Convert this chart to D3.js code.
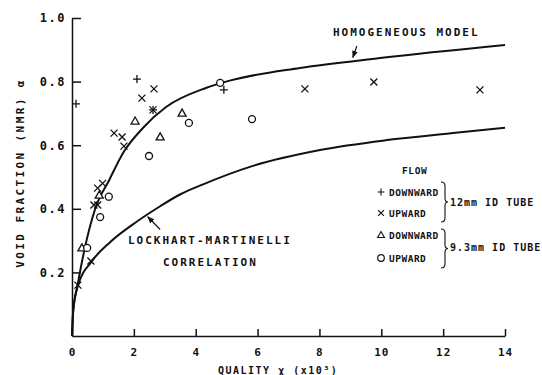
<!DOCTYPE html>
<html>
<head>
<meta charset="utf-8">
<script src="https://cdn.jsdelivr.net/npm/d3@7"></script>
<style>
  body { margin: 0; background: #fff; }
  svg text { font-family: "DejaVu Sans Mono", monospace; fill: #111; font-weight: bold; }
</style>
</head>
<body>
<svg width="542" height="375"></svg>
<script>
// measured points, quality x (x10^3) vs void fraction
const down12X = [0.13, 2.1, 2.62, 4.91]
const down12A = [0.73, 0.808, 0.711, 0.774]
const up12X = [0.19, 0.61, 0.71, 0.83, 0.83, 0.99, 1.36, 1.62, 1.68, 2.26, 2.62, 2.65, 7.53, 9.76, 13.19]
const up12A = [0.16, 0.236, 0.412, 0.412, 0.465, 0.48, 0.638, 0.626, 0.597, 0.748, 0.711, 0.777, 0.777, 0.799, 0.774]
const down93X = [0.32, 0.88, 2.04, 2.85, 3.56]
const down93A = [0.277, 0.443, 0.676, 0.626, 0.701]
const up93X = [0.49, 0.91, 1.19, 2.49, 3.78, 4.79, 5.82]
const up93A = [0.277, 0.374, 0.438, 0.566, 0.67, 0.796, 0.682]

// model curves
const homX = [0, 0.04, 0.18, 0.4, 0.75, 1.2, 1.68, 2.3, 3.04, 4.33, 5.1, 7.37, 9.96, 14]
const homA = [0, 0.08, 0.16, 0.27, 0.40, 0.49, 0.58, 0.655, 0.72, 0.78, 0.803, 0.843, 0.874, 0.915]
const lmX = [0, 0.04, 0.19, 0.65, 1.23, 2.1, 2.85, 3.49, 4.24, 5.85, 8.02, 10.18, 12.32, 14]
const lmA = [0, 0.08, 0.157, 0.236, 0.295, 0.36, 0.408, 0.445, 0.477, 0.535, 0.585, 0.616, 0.638, 0.655]

const xTicks = [0, 2, 4, 6, 8, 10, 12, 14]
const yTicks = [0.2, 0.4, 0.6, 0.8, 1.0]

const svg = d3.select("svg")
const x = d3.scaleLinear().domain([0, 14]).range([72, 505])
const y = d3.scaleLinear().domain([0, 1]).range([336, 18])

// axes, ticks point inward
const xAxis = svg.append("g").attr("transform", "translate(0,336)")
  .call(d3.axisBottom(x).tickValues(xTicks).tickSize(-7).tickSizeOuter(0).tickPadding(12))
xAxis.select(".domain").attr("stroke", "#111").attr("stroke-width", 1.5)
xAxis.selectAll(".tick line").attr("stroke", "#111").attr("stroke-width", 1.5)
xAxis.selectAll(".tick text").attr("font-size", 11).attr("letter-spacing", 1)

const yAxis = svg.append("g").attr("transform", "translate(72,0)")
  .call(d3.axisLeft(y).tickValues(yTicks).tickSize(-9).tickSizeOuter(0).tickPadding(6)
    .tickFormat(d => d.toFixed(1)))
yAxis.select(".domain").attr("stroke", "#111").attr("stroke-width", 1.5)
yAxis.selectAll(".tick line").attr("stroke", "#111").attr("stroke-width", 1.5)
yAxis.selectAll(".tick text").attr("font-size", 12).attr("letter-spacing", 1.5)

// curves
const line = d3.line().x(d => x(d[0])).y(d => y(d[1])).curve(d3.curveMonotoneX)
svg.append("path").datum(d3.zip(homX, homA)).attr("d", line)
  .attr("fill", "none").attr("stroke", "#111").attr("stroke-width", 2)
svg.append("path").datum(d3.zip(lmX, lmA)).attr("d", line)
  .attr("fill", "none").attr("stroke", "#111").attr("stroke-width", 2)

// marker shapes
const shapes = {
  plus: "M-4,0H4M0,-4V4",
  times: "M-3.5,-3.5L3.5,3.5M-3.5,3.5L3.5,-3.5",
  tri: "M0,-4L4,3H-4Z"
}
function drawMarks(xs, as, kind){
  let pts = d3.zip(xs, as)
  let g = svg.append("g")
  if (kind === "circle") {
    g.selectAll("circle").data(pts).enter().append("circle")
      .attr("cx", d => x(d[0])).attr("cy", d => y(d[1])).attr("r", 3.5)
      .attr("fill", "#fff").attr("stroke", "#111").attr("stroke-width", 1.3)
  } else {
    g.selectAll("path").data(pts).enter().append("path")
      .attr("d", shapes[kind])
      .attr("transform", d => `translate(${x(d[0])},${y(d[1])})`)
      .attr("fill", kind === "tri" ? "#fff" : "none")
      .attr("stroke", "#111").attr("stroke-width", 1.3)
  }
}
drawMarks(down93X, down93A, "tri")
drawMarks(up93X, up93A, "circle")
drawMarks(down12X, down12A, "plus")
drawMarks(up12X, up12A, "times")

// annotations
svg.append("text").attr("x", 333).attr("y", 36).attr("font-size", 11)
  .attr("letter-spacing", 2).text("HOMOGENEOUS MODEL")
svg.append("text").attr("x", 128).attr("y", 244).attr("font-size", 11)
  .attr("letter-spacing", 2).text("LOCKHART-MARTINELLI")
svg.append("text").attr("x", 163).attr("y", 266).attr("font-size", 11)
  .attr("letter-spacing", 2).text("CORRELATION")

svg.append("defs").append("marker").attr("id", "head")
  .attr("viewBox", "0 0 10 10").attr("refX", 9).attr("refY", 5)
  .attr("markerWidth", 6).attr("markerHeight", 6).attr("orient", "auto")
  .append("path").attr("d", "M0,1L10,5L0,9Z").attr("fill", "#111")

function arrow(x1, a1, x2, a2){
  svg.append("line")
    .attr("x1", x(x1)).attr("y1", y(a1)).attr("x2", x(x2)).attr("y2", y(a2))
    .attr("stroke", "#111").attr("stroke-width", 1.2).attr("marker-end", "url(#head)")
}
arrow(9.21, 0.912, 9.08, 0.876)
arrow(2.85, 0.335, 2.45, 0.375)

// legend
const lg = svg.append("g")
lg.append("text").attr("x", 402).attr("y", 174).attr("font-size", 9.5)
  .attr("letter-spacing", 0.6).text("FLOW")
const rows = [["plus", "DOWNWARD", 192], ["times", "UPWARD", 213], ["tri", "DOWNWARD", 235], ["circle", "UPWARD", 258]]
rows.forEach(r => {
  if (r[0] === "circle") {
    lg.append("circle").attr("cx", 381).attr("cy", r[2]).attr("r", 3.3)
      .attr("fill", "#fff").attr("stroke", "#111").attr("stroke-width", 1.2)
  } else {
    lg.append("path").attr("d", shapes[r[0]]).attr("transform", `translate(381,${r[2]}) scale(0.85)`)
      .attr("fill", "none").attr("stroke", "#111").attr("stroke-width", 1.3)
  }
  lg.append("text").attr("x", 389).attr("y", r[2] + 3.5).attr("font-size", 9.5)
    .attr("letter-spacing", 0.5).text(r[1])
})
function brace(top, bottom){
  let m = (top + bottom) / 2
  lg.append("path")
    .attr("d", `M441,${top} Q445,${top} 445,${top + 4} V${m - 4} Q445,${m} 448,${m} Q445,${m} 445,${m + 4} V${bottom - 4} Q445,${bottom} 441,${bottom}`)
    .attr("fill", "none").attr("stroke", "#111").attr("stroke-width", 1.1)
}
brace(182, 222)
brace(229, 268)
lg.append("text").attr("x", 450).attr("y", 206).attr("font-size", 10)
  .attr("letter-spacing", 1).text("12mm ID TUBE")
lg.append("text").attr("x", 450).attr("y", 251).attr("font-size", 10)
  .attr("letter-spacing", 1).text("9.3mm ID TUBE")

// axis titles
svg.append("text").attr("transform", "translate(24,173) rotate(-90)")
  .attr("text-anchor", "middle").attr("font-size", 11).attr("letter-spacing", 2.4)
  .text("VOID FRACTION (NMR) α")
svg.append("text").attr("x", 218).attr("y", 374).attr("font-size", 10)
  .attr("letter-spacing", 1.5).text("QUALITY χ (x10³)")
</script>
</body>
</html>
